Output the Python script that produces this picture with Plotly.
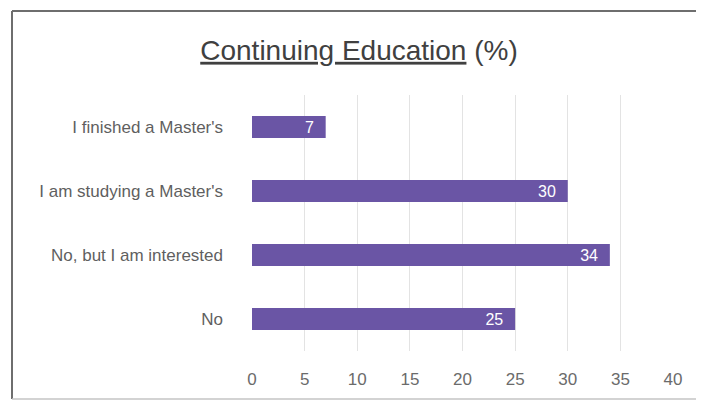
import plotly.graph_objects as go

categories = ["I finished a Master's", "I am studying a Master's", "No, but I am interested", "No"]
values = [7, 30, 34, 25]
x_ticks = [0, 5, 10, 15, 20, 25, 30, 35, 40]

OFF = 8  # page body margin
W, H = 704 - OFF, 401 - OFF
# plot area in page coordinates: x 252..673, y 95..351
L = 252 - OFF
R = W - (673 - OFF)
T = 95 - OFF
B = H - (351 - OFF)
pw, ph = W - L - R, H - T - B

def px(x):
    return (x - OFF - L) / pw

def py(y):
    return (H - B - (y - OFF)) / ph

fig = go.Figure(go.Bar(
    y=categories, x=values, orientation="h",
    marker=dict(color="#6a55a5", line=dict(width=0)),
    text=[f"{v}\u00a0\u00a0" for v in values],
    textposition="inside", insidetextanchor="end",
    textangle=0, constraintext="none",
    textfont=dict(color="white", size=16, family="Liberation Sans, Arial"),
    cliponaxis=False,
))

fig.update_layout(
    width=W, height=H,
    margin=dict(l=L, r=R, t=T, b=B),
    paper_bgcolor="white", plot_bgcolor="white",
    bargap=0.656,
    showlegend=False,
    font=dict(family="Liberation Sans, Arial", color="#595959"),
    title=dict(
        text="<u>Continuing Education</u> (%)",
        x=(359 - OFF) / W, xref="container", xanchor="center",
        y=1 - (50 - OFF) / H, yref="container", yanchor="middle",
        font=dict(size=28, color="#404040", family="Liberation Sans, Arial"),
    ),
    xaxis=dict(
        range=[0, 40], tickvals=x_ticks, showgrid=True, gridcolor="#e3e3e3", gridwidth=1,
        zeroline=False, showline=False, ticks="", ticklabelstandoff=16,
        tickfont=dict(size=17, color="#6b6b6b"),
    ),
    yaxis=dict(
        categoryorder="array", categoryarray=categories[::-1],
        showgrid=False, zeroline=False, showline=False, ticks="",
        ticklabelstandoff=28,
        tickfont=dict(size=17, color="#5f5f5f"),
    ),
    shapes=[
        dict(type="line", xref="paper", yref="paper", x0=px(12), x1=px(12), y0=py(11), y1=py(399),
             line=dict(color="#6e6e6e", width=2)),
        dict(type="line", xref="paper", yref="paper", x0=px(12), x1=px(704), y0=py(11), y1=py(11),
             line=dict(color="#6e6e6e", width=2)),
        dict(type="line", xref="paper", yref="paper", x0=px(12), x1=px(704), y0=py(399), y1=py(399),
             line=dict(color="#c4c4c4", width=1.5)),
    ],
)

fig.write_html("out.html")
